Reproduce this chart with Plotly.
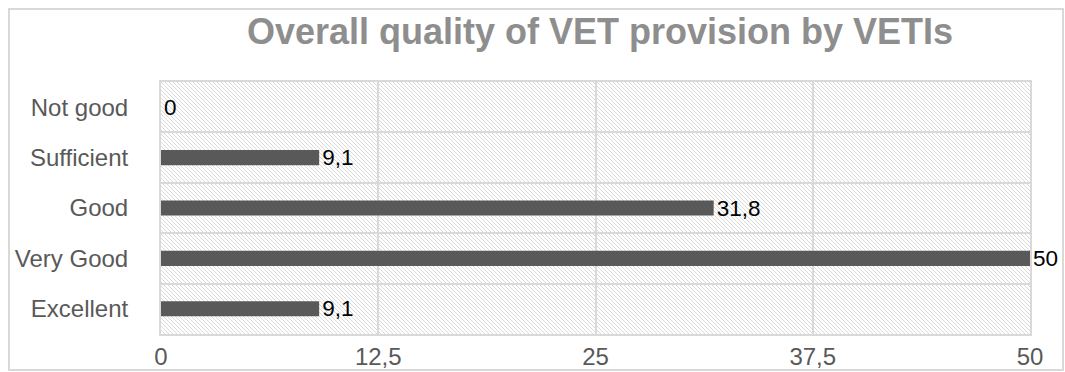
import base64
import plotly.graph_objects as go

# Survey results (%) for the overall quality of VET provision
categories = ["Not good", "Sufficient", "Good", "Very Good", "Excellent"]
values = [0, 9.1, 31.8, 50, 9.1]
x_ticks = [0, 12.5, 25, 37.5, 50]

WIDTH, HEIGHT = 1065, 372
M_L, M_R, M_T, M_B = 161, 35, 82, 38
PW, PH = WIDTH - M_L - M_R, HEIGHT - M_T - M_B

FONT = "Liberation Sans, Arial, Helvetica, sans-serif"
GRID = "#d9d9d9"
TICK = "#595959"

# Light diagonal hatch used as the plot-area fill
hatch_svg = (
    f'<svg xmlns="http://www.w3.org/2000/svg" width="{PW}" height="{PH}">'
    '<defs><pattern id="h" patternUnits="userSpaceOnUse" width="4" height="4">'
    '<path d="M-1,-1 L5,5 M3,-1 L5,1 M-1,3 L1,5" stroke="#d9d9d9" stroke-width="1"/>'
    '</pattern></defs><rect width="100%" height="100%" fill="url(#h)"/></svg>'
)
hatch_src = "data:image/svg+xml;base64," + base64.b64encode(hatch_svg.encode()).decode()

fig = go.Figure(
    go.Bar(
        x=values,
        y=categories,
        orientation="h",
        width=0.3,
        marker=dict(color="#595959", line=dict(width=0)),
        texttemplate="%{x}",
        textposition="outside",
        constraintext="none",
        textfont=dict(family=FONT, size=22.5, color="#000000"),
        cliponaxis=False,
        hoverinfo="skip",
    )
)

fig.update_layout(
    width=WIDTH,
    height=HEIGHT,
    autosize=False,
    margin=dict(l=M_L, r=M_R, t=M_T, b=M_B, pad=0),
    paper_bgcolor="white",
    plot_bgcolor="white",
    separators=", ",
    showlegend=False,
    title=dict(
        text="<b>Overall quality of VET provision by VETIs</b>",
        x=(600 - M_L) / PW,
        xref="paper",
        xanchor="center",
        y=1 - 31 / HEIGHT,
        yref="container",
        yanchor="middle",
        font=dict(family=FONT, size=36, color="#8e8e8e"),
    ),
    images=[
        dict(
            source=hatch_src,
            xref="paper",
            yref="paper",
            x=0,
            y=1,
            sizex=1,
            sizey=1,
            xanchor="left",
            yanchor="top",
            sizing="stretch",
            layer="below",
        )
    ],
    shapes=[
        dict(
            type="rect",
            xref="paper",
            yref="paper",
            x0=(9 - M_L) / PW,
            x1=(1063 - M_L) / PW,
            y0=(M_T + PH - 370) / PH,
            y1=(M_T + PH - 9) / PH,
            line=dict(color=GRID, width=2),
            fillcolor="rgba(0,0,0,0)",
            layer="below",
        )
    ],
    xaxis=dict(
        range=[0, 50],
        tickvals=x_ticks,
        showgrid=True,
        gridcolor=GRID,
        gridwidth=2,
        zeroline=False,
        showline=True,
        mirror=True,
        linecolor=GRID,
        linewidth=2,
        ticks="",
        ticklabelstandoff=0,
        tickfont=dict(family=FONT, size=24, color=TICK),
        automargin=False,
        fixedrange=True,
    ),
    yaxis=dict(
        type="category",
        categoryorder="array",
        categoryarray=categories,
        autorange="reversed",
        tickson="boundaries",
        showgrid=True,
        gridcolor=GRID,
        gridwidth=2,
        showline=True,
        mirror=True,
        linecolor=GRID,
        linewidth=2,
        ticks="",
        ticklabelstandoff=26,
        tickfont=dict(family=FONT, size=24, color=TICK),
        automargin=False,
        fixedrange=True,
    ),
)

fig.write_html("out.html")
